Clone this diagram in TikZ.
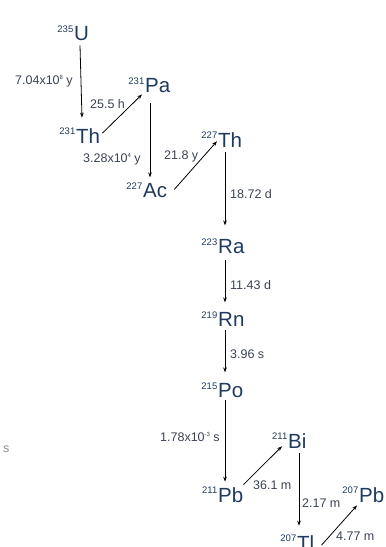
\documentclass[tikz,border=0pt]{standalone}
\usepackage{fontspec}
\setmainfont{Liberation Sans}
\usetikzlibrary{arrows.meta}
\definecolor{elemcol}{HTML}{1F3A5F}
\definecolor{labcol}{HTML}{3A4254}
\definecolor{straycol}{HTML}{8A8A8A}
\newcommand{\myexp}[1]{\raisebox{4.2pt}{\fontsize{6}{6}\selectfont #1}}
\tikzset{
  elem/.style={inner sep=0pt, anchor=base west, text=elemcol, font=\fontsize{20.5}{20.5}\selectfont},
  massno/.style={inner sep=0pt, anchor=north east, text=elemcol, font=\fontsize{9.5}{9.5}\selectfont},
  lab/.style={inner sep=0pt, anchor=base west, text=labcol, font=\fontsize{12.5}{12.5}\selectfont},
  arr/.style={draw=black, line width=0.8pt, -{Stealth[length=5pt,width=3.6pt]}}
}
\begin{document}
\begin{tikzpicture}[x=1pt,y=-1pt]
\useasboundingbox (0,0) rectangle (386,547);
% element symbols
\node[elem] (U)     at (74,40)  {U};
\node[elem] (Th231) at (76,143) {Th};
\node[elem] (Pa)    at (145,92) {Pa};
\node[elem] (Ac)    at (143,197) {Ac};
\node[elem] (Th227) at (218,147) {Th};
\node[elem] (Ra)    at (218,253) {Ra};
\node[elem] (Rn)    at (218,326) {Rn};
\node[elem] (Po)    at (218,397) {Po};
\node[elem] (Pb211) at (218,502) {Pb};
\node[elem] (Bi)    at (288,448) {Bi};
\node[elem] (Pb207) at (359,502) {Pb};
\node[elem] (Tl)    at (297,550) {Tl};
% mass numbers
\node[massno] (mU)     at ([xshift=-0.5pt]U.north west)     {235};
\node[massno] (mTh231) at ([xshift=-0.5pt]Th231.north west) {231};
\node[massno] (mPa)    at ([xshift=-0.5pt]Pa.north west)    {231};
\node[massno] (mAc)    at ([xshift=-0.5pt]Ac.north west)    {227};
\node[massno] (mTh227) at ([xshift=-0.5pt]Th227.north west) {227};
\node[massno] (mRa)    at ([xshift=-0.5pt]Ra.north west)    {223};
\node[massno] (mRn)    at ([xshift=-0.5pt]Rn.north west)    {219};
\node[massno] (mPo)    at ([xshift=-0.5pt]Po.north west)    {215};
\node[massno] (mPb211) at ([xshift=-0.5pt]Pb211.north west) {211};
\node[massno] (mBi)    at ([xshift=-0.5pt]Bi.north west)    {211};
\node[massno] (mPb207) at ([xshift=-0.5pt]Pb207.north west) {207};
\node[massno] (mTl)    at ([xshift=-0.5pt]Tl.north west)    {207};
% half-life labels
\node[lab] (l1)  at (15,84)   {7.04x10\myexp{8} y};
\node[lab] (l2)  at (90,108)  {25.5 h};
\node[lab] (l3)  at (83,162)  {3.28x10\myexp{4} y};
\node[lab] (l4)  at (164,159) {21.8 y};
\node[lab] (l5)  at (230,198) {18.72 d};
\node[lab] (l6)  at (230,289) {11.43 d};
\node[lab] (l7)  at (230,358) {3.96 s};
\node[lab] (l8)  at (160,441) {1.78x10\myexp{-3} s};
\node[lab] (l9)  at (253,489) {36.1 m};
\node[lab] (l10) at (302,507) {2.17 m};
\node[lab] (l11) at (336,540) {4.77 m};
\node[lab, text=straycol] (stray) at (3,452) {s};
% decay arrows
\draw[arr] ([shift={(6,5)}]U.south west) -- ([shift={(6,-10.3)}]Th231.north west);
\draw[arr] ([shift={(2,-10)}]Th231.south east) -- ([shift={(-3,2)}]Pa.south west);
\draw[arr] ([shift={(5,11)}]Pa.south west) -- ([shift={(5,-5.3)}]Pa.south west |- Ac.north west);
\draw[arr] ([shift={(7,-8)}]Ac.south east) -- ([shift={(-1,-6)}]Th227.south west);
\draw[arr] ([shift={(7,5)}]Th227.south west) -- ([shift={(7,-13.3)}]Ra.north west);
\draw[arr] ([shift={(7,7)}]Ra.south west) -- ([shift={(7,-9.3)}]Rn.north west);
\draw[arr] ([shift={(7,4)}]Rn.south west) -- ([shift={(7,-10.3)}]Po.north west);
\draw[arr] ([shift={(7,3)}]Po.south west) -- ([shift={(7,-5.3)}]Pb211.north west);
\draw[arr] ([shift={(0,-2.3)}]Pb211.north east) -- ([shift={(-6,-2)}]Bi.south west);
\draw[arr] ([shift={(11,5)}]Bi.south west) -- ([shift={(11,-9.3)}]Bi.south west |- Tl.north west);
\draw[arr] ([shift={(7,-5)}]Tl.south east) -- ([shift={(-2,3)}]Pb207.south west);
\end{tikzpicture}
\end{document}
